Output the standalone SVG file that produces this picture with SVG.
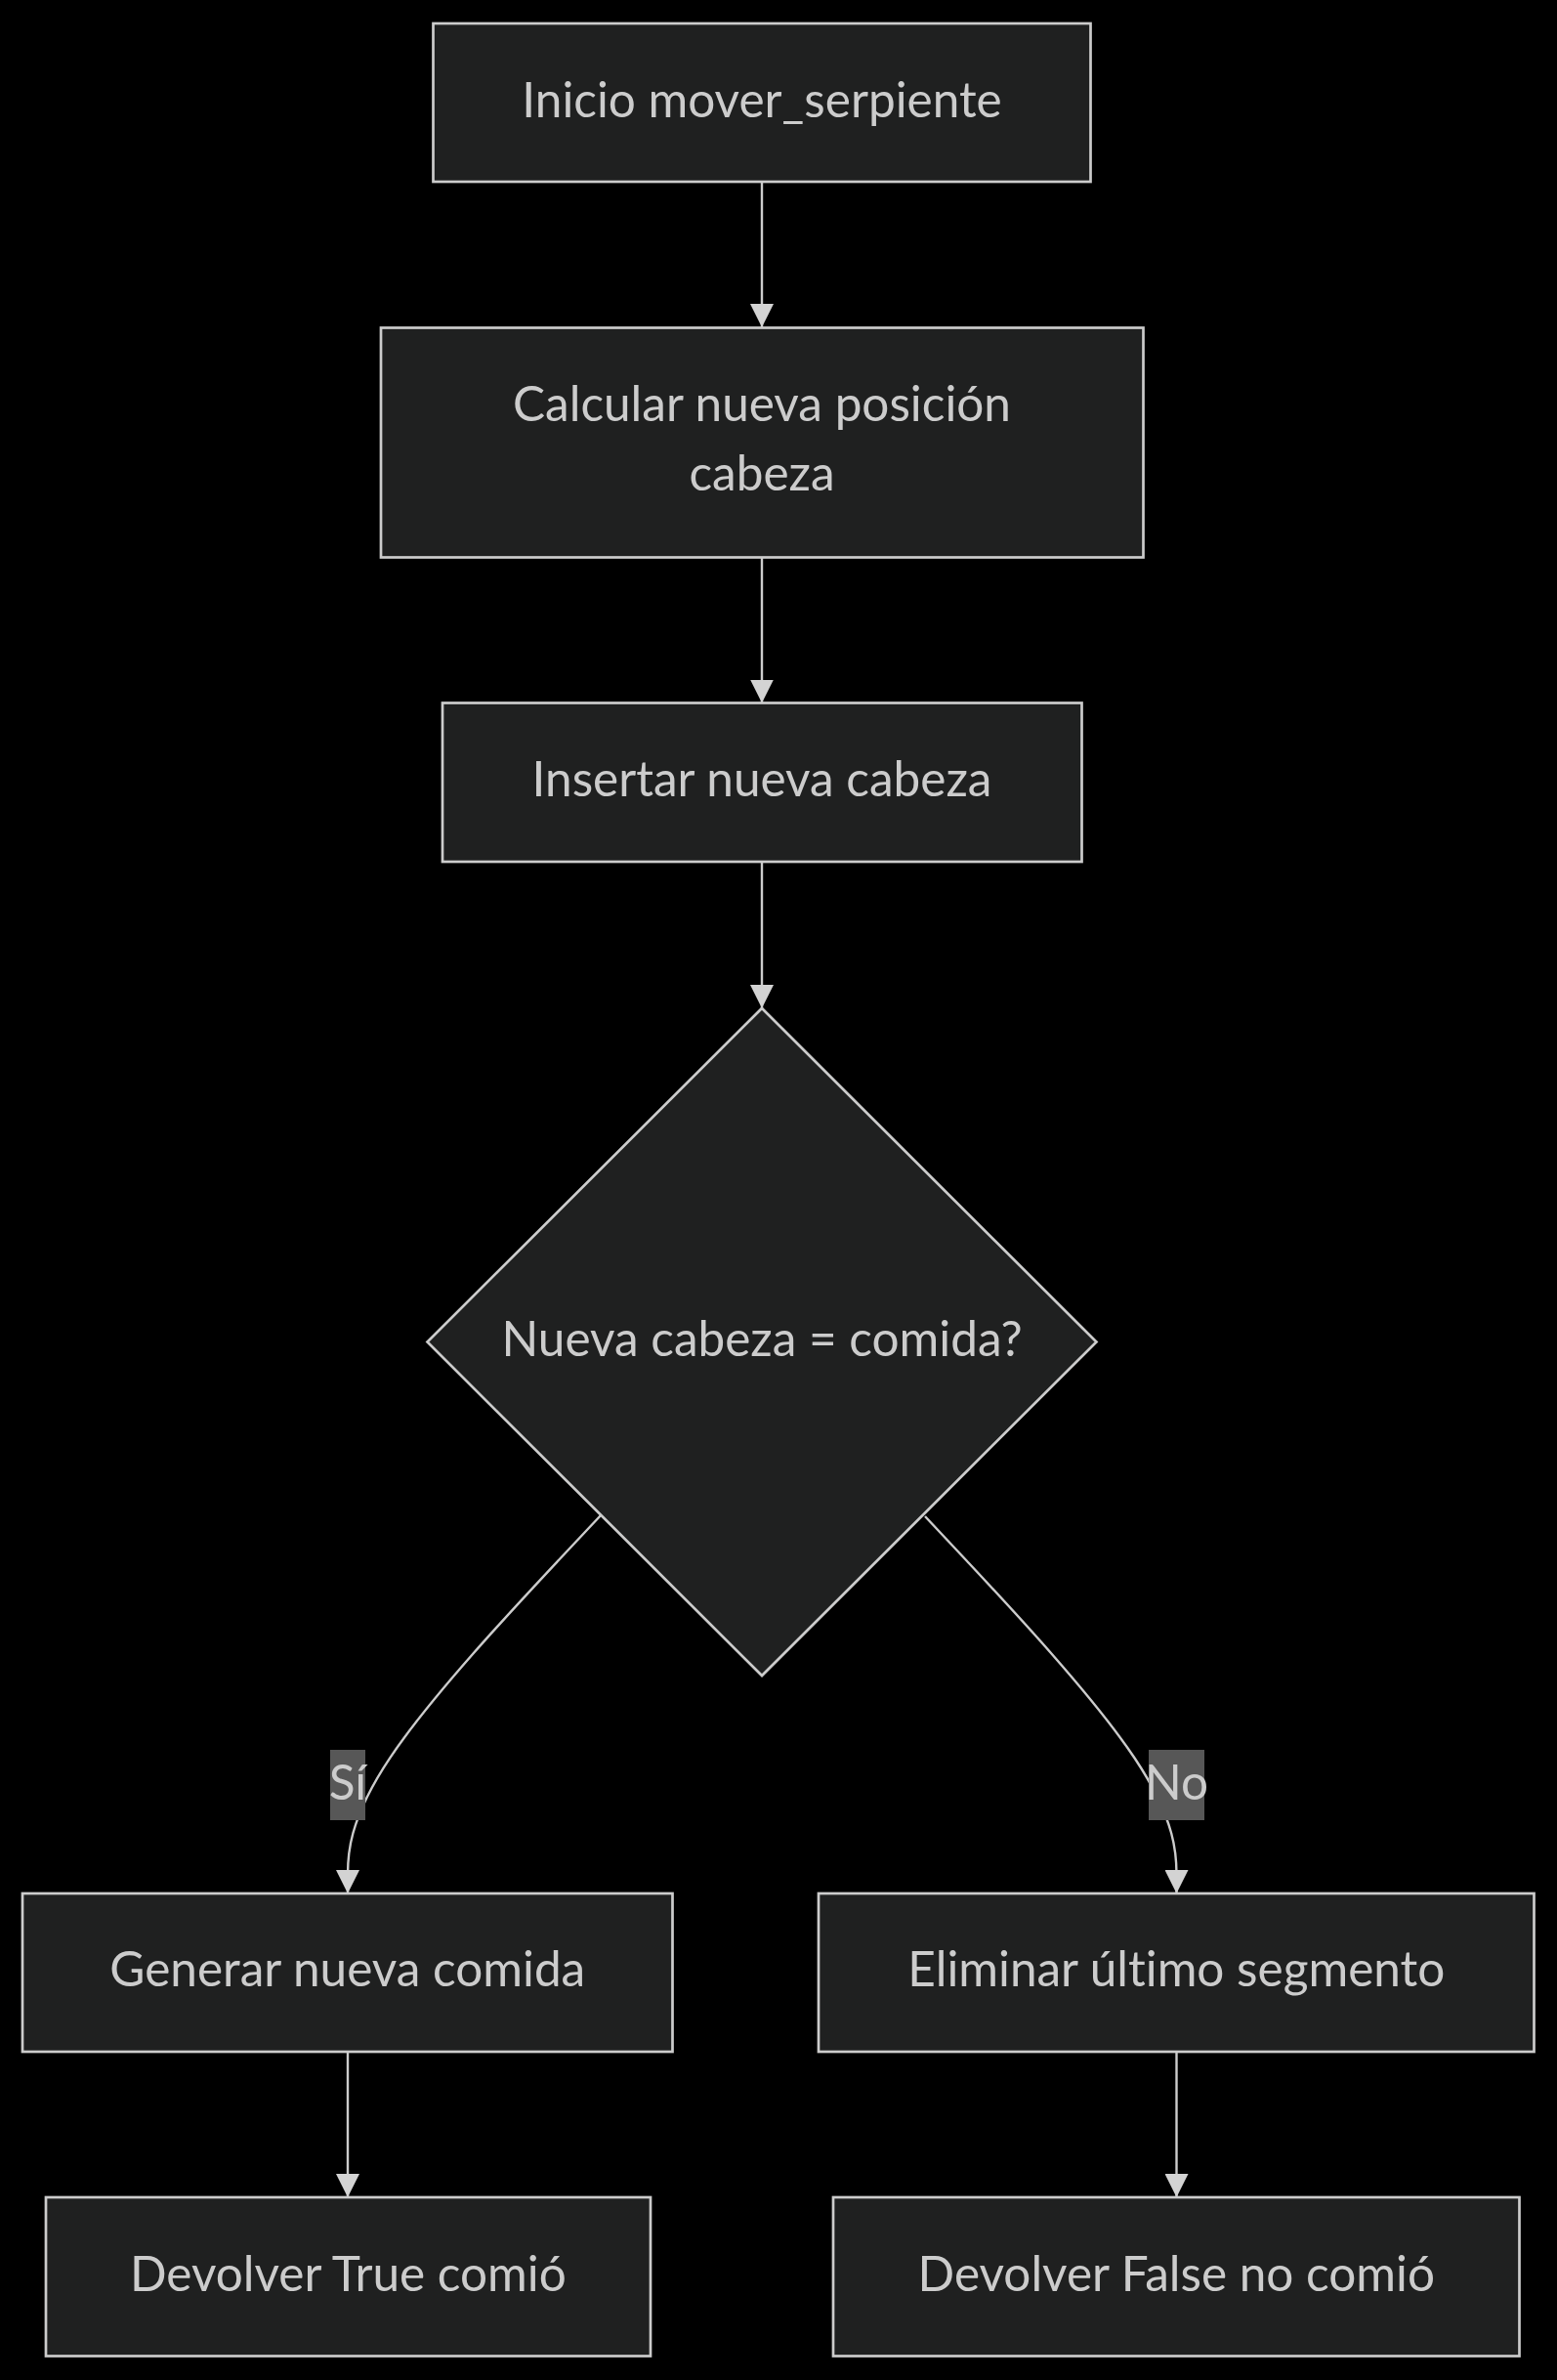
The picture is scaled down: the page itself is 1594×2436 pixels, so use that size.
<svg xmlns="http://www.w3.org/2000/svg" width="1594" height="2436" viewBox="0 0 1594 2436">
<style>
.bg{fill:#000}
.node rect,.node polygon{fill:#1f2020;stroke:#ccc;stroke-width:2.7}
.t{font-family:Lato,"Open Sans","DejaVu Sans",sans-serif;font-size:49.5px;fill:#ccc;text-anchor:middle;font-variant-ligatures:none;font-feature-settings:"liga" 0,"dlig" 0}
.edge{fill:none;stroke:#ccc;stroke-width:2.4}
.lbl rect{fill:#575757}
</style>
<defs>
<marker id="arr" viewBox="0 0 10 10" refX="10" refY="5" markerUnits="userSpaceOnUse" markerWidth="24" markerHeight="24" orient="auto">
<path d="M0,0 L10,5 L0,10 z" fill="#d3d3d3"/>
</marker>
</defs>
<rect class="bg" x="0" y="0" width="1594" height="2436"/>
<g id="connectors">
<path class="edge" d="M780,186 L780,335" marker-end="url(#arr)"/>
<path class="edge" d="M780,570.5 L780,719.5" marker-end="url(#arr)"/>
<path class="edge" d="M780,882 L780,1032" marker-end="url(#arr)"/>
<path class="edge" d="M615,1551 L571.8,1597 C528.7,1643 442.3,1735 399.2,1799.3 C356,1863.7 356,1900.3 356,1918.7 L356,1938" marker-end="url(#arr)"/>
<path class="edge" d="M947,1552 L989.9,1597.8 C1032.8,1643.7 1118.7,1735.3 1161.6,1799.5 C1204.5,1863.7 1204.5,1900.3 1204.5,1918.7 L1204.5,1938" marker-end="url(#arr)"/>
<path class="edge" d="M356,2100 L356,2249" marker-end="url(#arr)"/>
<path class="edge" d="M1204.5,2100 L1204.5,2249" marker-end="url(#arr)"/>
</g>
<g id="edge-labels">
<g id="label-si" class="lbl"><rect x="338" y="1791" width="36" height="72"/><text class="t" x="356" y="1841.7">Sí</text></g>
<g id="label-no" class="lbl"><rect x="1176" y="1791" width="57" height="72"/><text class="t" x="1204.5" y="1841.7">No</text></g>
</g>
<g id="n1" class="node"><rect x="443.5" y="24" width="673" height="162"/><text class="t" x="780" y="119.5">Inicio mover_serpiente</text></g>
<g id="n2" class="node"><rect x="390" y="335.5" width="780.5" height="235"/><text class="t" x="780" y="431">Calcular nueva posición</text><text class="t" x="780" y="502">cabeza</text></g>
<g id="n3" class="node"><rect x="453" y="719.5" width="654.5" height="162.5"/><text class="t" x="780" y="815">Insertar nueva cabeza</text></g>
<g id="n4" class="node"><polygon points="780,1032 1122.5,1373.5 780,1715 437.5,1373.5"/><text class="t" x="780" y="1388">Nueva cabeza = comida?</text></g>
<g id="n5" class="node"><rect x="23" y="1938" width="665.5" height="162"/><text class="t" x="355.8" y="2033">Generar nueva comida</text></g>
<g id="n6" class="node"><rect x="838" y="1938" width="732.5" height="162"/><text class="t" x="1204.3" y="2033">Eliminar último segmento</text></g>
<g id="n7" class="node"><rect x="47" y="2249" width="619" height="162.5"/><text class="t" x="356.4" y="2344.5">Devolver True comió</text></g>
<g id="n8" class="node"><rect x="853" y="2249" width="702.5" height="162.5"/><text class="t" x="1204.3" y="2344.5">Devolver False no comió</text></g>
</svg>
